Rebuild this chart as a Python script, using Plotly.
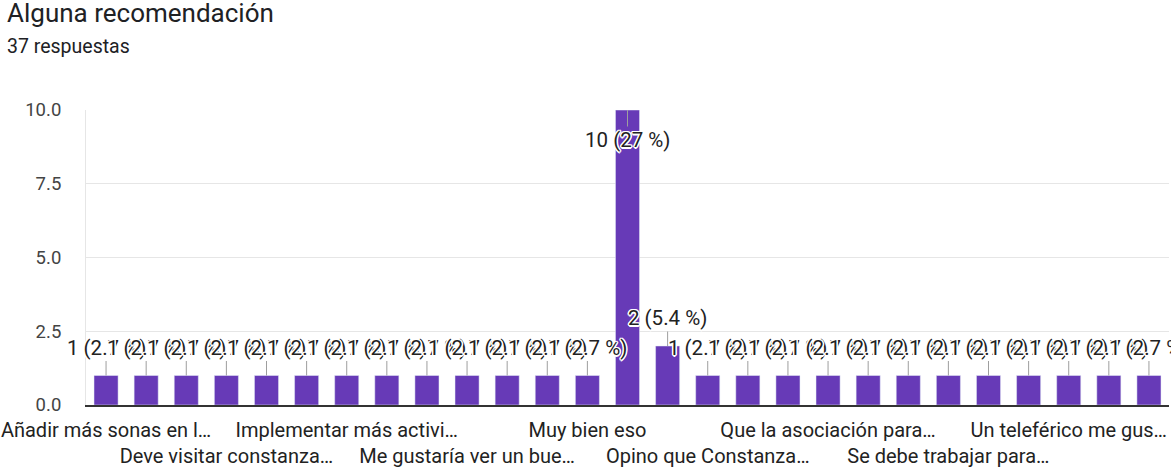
import plotly.graph_objects as go

title_text = "Alguna recomendación"
subtitle_text = "37 respuestas"

categories = [
    "Añadir más sonas en l…",
    "Apoyar el turismo local…",
    "Cuidar más los parques…",
    "Deve visitar constanza…",
    "Es un buen lugar…",
    "Hacer más eventos…",
    "Implementar más activi…",
    "Más limpieza…",
    "Más seguridad…",
    "Me gustaría ver un bue…",
    "Mejorar las vías…",
    "Muy bien",
    "Muy bien eso",
    "Ninguna",
    "No",
    "Opino que Constanza…",
    "Promover la cultura…",
    "Que haya más…",
    "Que la asociación para…",
    "Que sigan así…",
    "Sa…",
    "Se debe trabajar para…",
    "Sería bueno…",
    "Todo está bien…",
    "Un teleférico me gus…",
    "Una ruta ciclística…",
    "Ya está muy bien…",
]
values = [1, 1, 1, 1, 1, 1, 1, 1, 1, 1, 1, 1, 1, 10, 2, 1, 1, 1, 1, 1, 1, 1, 1, 1, 1, 1, 1]
shown_label_step = 3
y_ticks = [0, 2.5, 5, 7.5, 10]

total = sum(values)
bar_color = "#673ab7"
font_family = "Roboto, Arial, sans-serif"

fig = go.Figure()
fig.add_trace(go.Bar(x=categories, y=values, marker_color=bar_color, hoverinfo="x+y"))

# staggered tick labels (every third category, alternating rows)
tickvals = categories[::shown_label_step]
ticktext = []
for k, c in enumerate(tickvals):
    ticktext.append(("<br>" + c) if k % 2 else c)

halo = ("white 1.5px 0px 0px, white -1.5px 0px 0px, white 0px 1.5px 0px, white 0px -1.5px 0px, "
        "white 1px 1px 0px, white -1px -1px 0px, white 1px -1px 0px, white -1px 1px 0px")

annotations = []
ymax = max(y_ticks)
for c, v in zip(categories, values):
    pct = v / total * 100
    label = f"{v} ({pct:.2g} %)"
    inside = v >= ymax
    annotations.append(dict(
        x=c, y=v, xref="x", yref="y", text=label,
        showarrow=True, arrowhead=0, arrowwidth=1, arrowcolor="#9e9e9e",
        ax=0, ay=(30 if inside else -28), standoff=0,
        font=dict(family=font_family, size=20.5, color="#222222", shadow=halo),
    ))

annotations.append(dict(
    x=5, y=13, xref="paper", yref="paper", text=title_text, showarrow=False,
    xanchor="left", yanchor="middle",
    font=dict(family=font_family, size=26, color="#202124"),
))
annotations.append(dict(
    x=5, y=46, xref="paper", yref="paper", text=subtitle_text, showarrow=False,
    xanchor="left", yanchor="middle",
    font=dict(family=font_family, size=19.5, color="#202124"),
))

W, H = 1171, 467
ml, mr, mt, mb = 86, 2, 110, 62
pw, ph = W - ml - mr, H - mt - mb
# convert pixel positions of the header texts to paper coordinates
for a in annotations[-2:]:
    a["x"] = (a["x"] - ml) / pw
    a["y"] = (H - mb - a["y"]) / ph

fig.update_layout(
    width=W, height=H, autosize=False,
    margin=dict(l=ml, r=mr, t=mt, b=mb, autoexpand=False),
    paper_bgcolor="white", plot_bgcolor="white",
    bargap=0.4, showlegend=False,
    font=dict(family=font_family, color="#333333"),
    annotations=annotations,
)
fig.update_xaxes(
    type="category", tickmode="array", tickvals=tickvals, ticktext=ticktext,
    range=[-0.5, len(categories) - 0.5],
    tickangle=0, showgrid=False, showline=True, linecolor="#333333", linewidth=1.5,
    ticks="", tickfont=dict(family=font_family, size=20, color="#222222"),
    ticklabelstandoff=6, automargin=False,
)
fig.update_yaxes(
    range=[0, ymax], tickmode="array", tickvals=y_ticks, tickformat=".1f",
    showgrid=True, gridcolor="#e6e6e6", gridwidth=1,
    showline=True, linecolor="#e6e6e6", zeroline=False,
    ticks="", ticklabelstandoff=20, automargin=False,
    tickfont=dict(family=font_family, size=18.5, color="#444444"),
)

fig.write_html(
    "out.html",
    config={"displayModeBar": False},
    post_script="document.body.style.margin='0';document.body.style.overflow='hidden';",
)
